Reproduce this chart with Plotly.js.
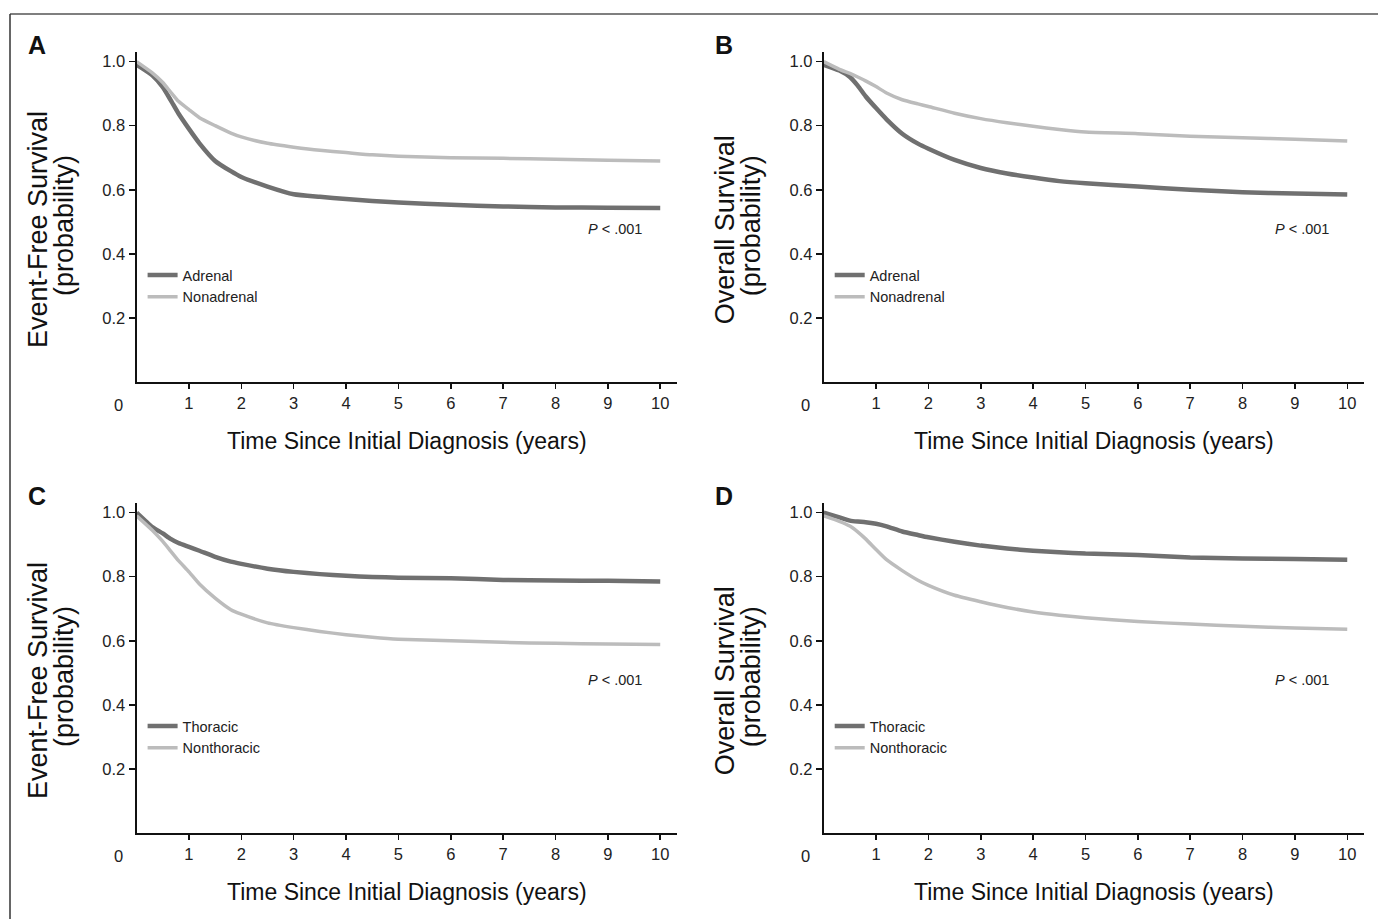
<!DOCTYPE html>
<html>
<head>
<meta charset="utf-8">
<script src="https://cdn.plot.ly/plotly-3.0.1.min.js"></script>
<style>html,body{margin:0;padding:0;background:#fff;}#chart{width:1378px;height:919px;}</style>
</head>
<body>
<div id="chart"></div>
<script>
// Time grid (years)
const years = [0, 0.3, 0.5, 0.65, 0.8, 1.0, 1.2, 1.5, 1.8, 2.0, 2.5, 3.0, 3.5, 4.0, 4.5, 5, 6, 7, 8, 9, 10];

// Panel A: Event-free survival
const efsAdrenal    = [0.99, 0.957, 0.92, 0.88, 0.838, 0.79, 0.745, 0.69, 0.658, 0.64, 0.61, 0.586, 0.578, 0.571, 0.565, 0.56, 0.553, 0.548, 0.545, 0.544, 0.543];
const efsNonadrenal = [1.0, 0.965, 0.935, 0.905, 0.876, 0.85, 0.825, 0.80, 0.777, 0.765, 0.745, 0.733, 0.723, 0.716, 0.709, 0.705, 0.70, 0.698, 0.695, 0.692, 0.69];

// Panel B: Overall survival
const osAdrenal     = [0.99, 0.972, 0.952, 0.925, 0.892, 0.855, 0.82, 0.775, 0.744, 0.728, 0.693, 0.668, 0.651, 0.638, 0.627, 0.62, 0.61, 0.60, 0.592, 0.588, 0.585];
const osNonadrenal  = [1.0, 0.976, 0.963, 0.952, 0.94, 0.922, 0.902, 0.881, 0.868, 0.86, 0.839, 0.822, 0.809, 0.798, 0.788, 0.78, 0.775, 0.767, 0.762, 0.758, 0.752];

// Panel C: Event-free survival
const efsThoracic    = [1.0, 0.955, 0.935, 0.918, 0.905, 0.893, 0.881, 0.862, 0.847, 0.84, 0.825, 0.815, 0.808, 0.803, 0.799, 0.797, 0.795, 0.79, 0.788, 0.787, 0.785];
const efsNonthoracic = [0.99, 0.945, 0.91, 0.88, 0.85, 0.815, 0.777, 0.733, 0.697, 0.683, 0.656, 0.641, 0.629, 0.619, 0.611, 0.605, 0.60, 0.595, 0.592, 0.59, 0.588];

// Panel D: Overall survival
const osThoracic     = [1.0, 0.985, 0.975, 0.972, 0.97, 0.965, 0.957, 0.941, 0.93, 0.923, 0.909, 0.897, 0.888, 0.881, 0.876, 0.872, 0.868, 0.86, 0.857, 0.855, 0.853];
const osNonthoracic  = [0.99, 0.973, 0.958, 0.94, 0.918, 0.885, 0.853, 0.819, 0.789, 0.773, 0.742, 0.722, 0.704, 0.69, 0.68, 0.672, 0.66, 0.652, 0.645, 0.64, 0.636];

const xTickVals = [1, 2, 3, 4, 5, 6, 7, 8, 9, 10];
const yTickVals = [0.2, 0.4, 0.6, 0.8, 1.0];
const yTickText = ['0.2', '0.4', '0.6', '0.8', '1.0'];
const panelLetters = ['A', 'B', 'C', 'D'];
const yTitles = [['Event-Free Survival', '(probability)'], ['Overall Survival', '(probability)'],
                 ['Event-Free Survival', '(probability)'], ['Overall Survival', '(probability)']];
const xTitle = 'Time Since Initial Diagnosis (years)';
const pText = '<i>P</i> < .001';

const W = 1378, H = 919;
const FONT = 'Liberation Sans, Arial, sans-serif';
const DARK = '#707070', LIGHT = '#bcbcbc';

const series = [
  [efsAdrenal, efsNonadrenal, 'Adrenal', 'Nonadrenal'],
  [osAdrenal, osNonadrenal, 'Adrenal', 'Nonadrenal'],
  [efsThoracic, efsNonthoracic, 'Thoracic', 'Nonthoracic'],
  [osThoracic, osNonthoracic, 'Thoracic', 'Nonthoracic']
];

// pixel geometry of panels (left, right, top, bottom)
const boxes = [
  [136.6, 677, 52, 382],
  [823.7, 1364, 52, 382],
  [136.6, 677, 503, 833],
  [823.7, 1364, 503, 833]
];
const px = v => v / W, py = v => 1 - v / H;

const data = [];
const layout = {
  width: W, height: H,
  margin: {l: 0, r: 0, t: 0, b: 0},
  paper_bgcolor: '#fff', plot_bgcolor: '#fff',
  font: {family: FONT, color: '#222'},
  annotations: [], shapes: []
};

boxes.forEach((b, i) => {
  const n = i + 1;
  const xa = 'xaxis' + (n === 1 ? '' : n), ya = 'yaxis' + (n === 1 ? '' : n);
  const xr = 'x' + (n === 1 ? '' : n), yr = 'y' + (n === 1 ? '' : n);
  const lg = 'legend' + (n === 1 ? '' : n);
  const s = series[i];
  data.push({x: years, y: s[0], xaxis: xr, yaxis: yr, name: s[2], type: 'scatter', mode: 'lines',
             line: {color: DARK, width: 4.5, shape: 'spline', smoothing: 0.5}, legend: lg});
  data.push({x: years, y: s[1], xaxis: xr, yaxis: yr, name: s[3], type: 'scatter', mode: 'lines',
             line: {color: LIGHT, width: 3.5, shape: 'spline', smoothing: 0.5}, legend: lg});
  layout[xa] = {
    domain: [px(b[0]), px(b[1])], range: [0, 10.32], anchor: yr,
    showgrid: false, zeroline: false, showline: true, linecolor: '#111', linewidth: 2,
    ticks: 'outside', ticklen: 5, tickwidth: 1.5, tickcolor: '#111',
    tickvals: xTickVals, tickfont: {size: 16.5, family: FONT, color: '#222'},
    title: {text: xTitle, font: {size: 23, family: FONT, color: '#111'}, standoff: 22},
    fixedrange: true
  };
  layout[ya] = {
    domain: [py(b[3]), py(b[2])], range: [0, 1.03], anchor: xr,
    showgrid: false, zeroline: false, showline: true, linecolor: '#111', linewidth: 2,
    ticks: 'outside', ticklen: 6, tickwidth: 1.5, tickcolor: '#111',
    tickvals: yTickVals, ticktext: yTickText, tickfont: {size: 16.5, family: FONT, color: '#222'},
    fixedrange: true
  };
  layout[lg] = {
    x: px(b[0] + 6), y: py(b[2] + 207), xanchor: 'left', yanchor: 'top',
    bgcolor: 'rgba(0,0,0,0)', borderwidth: 0, itemwidth: 30,
    font: {size: 14.5, family: FONT, color: '#222'}, tracegroupgap: 0
  };
  // origin "0" label
  layout.annotations.push({xref: xr, yref: yr, x: 0, y: 0, text: '0', showarrow: false,
    xshift: -18, yshift: -23, font: {size: 16.5, family: FONT, color: '#222'}});
  // P value
  layout.annotations.push({xref: xr, yref: yr, x: 9.14, y: 0.478, text: pText, showarrow: false,
    font: {size: 14.5, family: FONT, color: '#222'}});
  // Panel letter
  layout.annotations.push({xref: 'paper', yref: 'paper', x: px(b[0] - 100), y: py(b[2] - 7),
    text: '<b>' + panelLetters[i] + '</b>', showarrow: false, xanchor: 'center', yanchor: 'middle',
    font: {size: 25, family: FONT, color: '#111'}});
  // y titles (two lines)
  const cy = (b[2] + b[3]) / 2 + 13;
  layout.annotations.push({xref: 'paper', yref: 'paper', x: px(b[0] - 98.5), y: py(cy),
    text: yTitles[i][0], textangle: -90, showarrow: false, xanchor: 'center', yanchor: 'middle',
    font: {size: 27, family: FONT, color: '#111'}});
  layout.annotations.push({xref: 'paper', yref: 'paper', x: px(b[0] - 72.5), y: py(cy - 4),
    text: yTitles[i][1], textangle: -90, showarrow: false, xanchor: 'center', yanchor: 'middle',
    font: {size: 27, family: FONT, color: '#111'}});
});

// outer frame (top and left rules)
layout.shapes.push({type: 'line', xref: 'paper', yref: 'paper', x0: px(10), x1: 1, y0: py(14), y1: py(14),
  line: {color: '#555', width: 1.5}});
layout.shapes.push({type: 'line', xref: 'paper', yref: 'paper', x0: px(10), x1: px(10), y0: 0, y1: py(14),
  line: {color: '#333', width: 1.5}});

Plotly.newPlot('chart', data, layout, {displayModeBar: false, staticPlot: true});
</script>
</body>
</html>
